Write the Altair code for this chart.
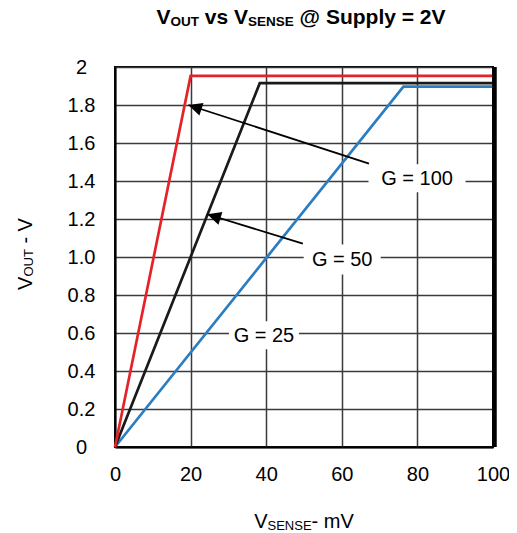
import math
import altair as alt
import pandas as pd

# ---------------- data ----------------
vsense_g100 = [0, 20.0, 100]
vout_g100 = [0, 1.953, 1.953]
vsense_g50 = [0, 38.3, 100]
vout_g50 = [0, 1.915, 1.915]
vsense_g25 = [0, 76.3, 100]
vout_g25 = [0, 1.897, 1.897]

series_names = ["G = 100", "G = 50", "G = 25"]
series_colors = ["#e42228", "#1a1a1a", "#2b7dc2"]

label_text = ["G = 100", "G = 50", "G = 25"]
label_x = [79.9, 60.1, 39.4]
label_y = [1.415, 0.987, 0.588]
label_box_w = [97, 77, 70]
label_box_h = [28, 30, 28]

arrow_from_x = [67.2, 49.7]
arrow_from_y = [1.492, 1.07]
arrow_to_x = [19.4, 24.4]
arrow_to_y = [1.80, 1.225]

x_ticks = [0, 20, 40, 60, 80, 100]
y_ticks = [0, 0.2, 0.4, 0.6, 0.8, 1.0, 1.2, 1.4, 1.6, 1.8, 2.0]
y_tick_labels = ["0", "0.2", "0.4", "0.6", "0.8", "1.0", "1.2", "1.4", "1.6", "1.8", "2"]

# ---------------- layout ----------------
W, H = 378, 380
FONT = "Liberation Sans"

REG = {' ': 278, '-': 333, '.': 278, '=': 584, '@': 1015, 'E': 667, 'G': 778,
       'N': 722, 'O': 778, 'S': 667, 'T': 611, 'U': 722, 'V': 667, 'm': 833,
       'v': 500, 's': 500, 'u': 556, 'p': 556, 'l': 222, 'y': 500}
BOLD = {' ': 278, '-': 333, '.': 278, '=': 584, '@': 975, 'E': 667, 'G': 778,
        'N': 722, 'O': 778, 'S': 667, 'T': 611, 'U': 722, 'V': 667, 'm': 889,
        'v': 556, 's': 556, 'u': 611, 'p': 611, 'l': 278, 'y': 556}


def measure(text, size, bold):
    tbl = BOLD if bold else REG
    return sum(tbl.get(c, 556) for c in text) * size / 1000.0


def text_layer(t, px, py, size, bold=False, angle=0):
    return alt.Chart(alt.Data(values=[{"t": t}])).mark_text(
        font=FONT, fontSize=size, fontWeight="bold" if bold else "normal",
        align="left", baseline="alphabetic", angle=angle, color="black"
    ).encode(x=alt.value(px), y=alt.value(py), text="t:N")


def rich_text(parts, center, base, bold=False, vertical=False):
    """parts: (text, size, baseline shift). Horizontal or rotated (bottom-to-top)."""
    total = sum(measure(p[0], p[1], bold) for p in parts)
    pos = center - total / 2 if not vertical else center + total / 2
    layers = []
    for text, size, shift in parts:
        w = measure(text, size, bold)
        lead = len(text) - len(text.lstrip(' '))
        lw = measure(' ' * lead, size, bold)
        if vertical:
            layers.append(text_layer(text.strip(), base + shift, pos - lw, size, bold, angle=270))
            pos -= w
        else:
            layers.append(text_layer(text.strip(), pos + lw, base + shift, size, bold))
            pos += w
    return layers


# ---------------- tables ----------------
rows = []
for name, xs, ys in [("G = 25", vsense_g25, vout_g25), ("G = 50", vsense_g50, vout_g50),
                     ("G = 100", vsense_g100, vout_g100)]:
    for i, (a, b) in enumerate(zip(xs, ys)):
        rows.append({"series": name, "idx": i, "vsense": a, "vout": b})
df_lines = pd.DataFrame(rows)

df_arrows = pd.DataFrame({"vsense": arrow_from_x, "vout": arrow_from_y,
                          "vsense2": arrow_to_x, "vout2": arrow_to_y})
heads = []
for fx, fy, tx, ty in zip(arrow_from_x, arrow_from_y, arrow_to_x, arrow_to_y):
    dx = (tx - fx) / 100 * W
    dy = -(ty - fy) / 2 * H
    ang = math.degrees(math.atan2(dx, -dy)) % 360
    heads.append({"vsense": tx, "vout": ty, "ang": ang})
df_heads = pd.DataFrame(heads)

y_label_expr = " : ".join(
    f"abs(datum.value - {v}) < 1e-6 ? '{lab}'" for v, lab in zip(y_ticks, y_tick_labels)
) + " : ''"

x_enc = alt.X("vsense:Q", scale=alt.Scale(domain=[0, 100], nice=False, zero=False),
              axis=alt.Axis(values=x_ticks, title=None, grid=True, ticks=False, tickSize=0,
                            labelPadding=33, labelBaseline="alphabetic", format="d",
                            labelFlush=False, labelOverlap=False))
y_enc = alt.Y("vout:Q", scale=alt.Scale(domain=[0, 2], nice=False),
              axis=alt.Axis(values=y_ticks, title=None, grid=True, ticks=False, tickSize=0,
                            labelExpr=y_label_expr, labelAlign="center", labelPadding=34,
                            labelBaseline="middle", labelFlush=False, labelOverlap=False))

lines = alt.Chart(df_lines).mark_line(strokeWidth=2.7).encode(
    x=x_enc, y=y_enc,
    color=alt.Color("series:N", scale=alt.Scale(domain=series_names, range=series_colors), legend=None),
    detail="series:N", order="idx:Q")

right_edge = alt.Chart(pd.DataFrame({"vsense": [100], "vout": [0], "vout2": [2]})).mark_rule(
    strokeWidth=4.5, color="black", xOffset=1.5).encode(x=x_enc, y=y_enc, y2="vout2:Q")

layers = [lines, right_edge]

for t, lx, ly, bw, bh in zip(label_text, label_x, label_y, label_box_w, label_box_h):
    h = bh / bw
    path = f"M-1,{-h:.3f}L1,{-h:.3f}L1,{h:.3f}L-1,{h:.3f}Z"
    d = pd.DataFrame({"vsense": [lx], "vout": [ly], "t": [t]})
    layers.append(alt.Chart(d).mark_point(shape=path, size=bw * bw, filled=True, fill="white",
                                          opacity=1, strokeWidth=0).encode(x=x_enc, y=y_enc))
    layers.append(alt.Chart(d).mark_text(font=FONT, fontSize=20, baseline="middle", align="center",
                                         color="black", dy=1).encode(x=x_enc, y=y_enc, text="t:N"))

arrows = alt.Chart(df_arrows).mark_rule(strokeWidth=1.8, color="black").encode(
    x=x_enc, y=y_enc, x2="vsense2:Q", y2="vout2:Q")
arrow_heads = alt.Chart(df_heads).mark_point(
    shape="M0,0L-0.48,1L0.48,1Z", size=760, filled=True, fill="black", opacity=1, strokeWidth=0
).encode(x=x_enc, y=y_enc, angle=alt.Angle("ang:Q", scale=None))
layers += [arrows, arrow_heads]

# titles with subscripts (positions relative to the plot origin)
layers += rich_text([("V", 21, 0), ("OUT", 13.5, 2), (" vs ", 21, 0), ("V", 21, 0),
                     ("SENSE", 13.5, 2), (" @ Supply = 2V", 21, 0)],
                    center=186, base=-43.2, bold=True)
layers += rich_text([("V", 20, 0), ("SENSE", 13, 1.5), ("- mV", 20, 0)],
                    center=189, base=461)
layers += rich_text([("V", 20, 0), ("OUT", 13, 1.5), (" - V", 20, 0)],
                    center=187, base=-83.3, vertical=True)

chart = alt.layer(*layers).properties(
    width=W, height=H,
    autosize=alt.AutoSizeParams(type="none"),
    padding={"left": 107, "top": 59, "right": 16, "bottom": 86},
).configure_view(stroke="black", strokeWidth=2).configure_axis(
    labelFont=FONT, labelFontSize=20, labelColor="black",
    domainColor="black", domainWidth=2,
    gridColor="#3a3a3a", gridWidth=1.5, gridOpacity=1,
)

chart.save("out.html", embed_options={"renderer": "svg", "actions": False})
